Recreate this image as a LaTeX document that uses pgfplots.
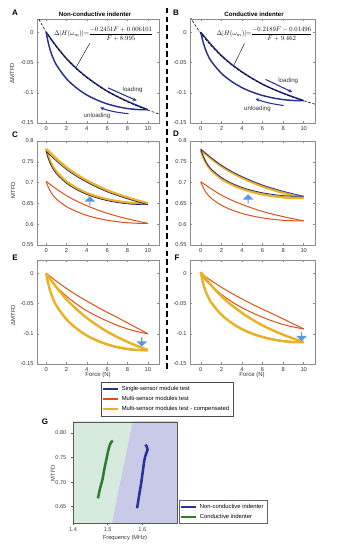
\documentclass[border=0pt]{standalone}
\usepackage{pgfplots}
\pgfplotsset{compat=1.18}
\usepackage{graphicx}
\usepackage{fontspec}
\setmainfont{Liberation Sans}
\usetikzlibrary{shapes.arrows,arrows.meta}
\definecolor{mblue}{RGB}{40,50,140}
\definecolor{morange}{RGB}{217,83,25}
\definecolor{myellow}{RGB}{237,177,32}
\definecolor{arrowblue}{RGB}{91,155,213}
\definecolor{gfillgreen}{RGB}{214,234,222}
\definecolor{gfillblue}{RGB}{200,202,232}
\definecolor{ggreen}{RGB}{46,125,50}
\definecolor{gblue}{RGB}{40,50,150}
\pgfplotsset{
 mat/.style={scale only axis, height=78pt, xtick={0,2,4,6,8,10}, xticklabels={0,2,4,6,8,10},
   tick align=inside, axis line style={draw=black!45, line width=0.4pt},
   major tick style={black!45, line width=0.3pt}, major tick length=1.8pt,
   tick label style={font=\fontsize{4.3}{5}\selectfont, text=black!80},
   /pgf/number format/assume math mode=true, clip mode=individual,
   xticklabel shift=-1pt, yticklabel shift=-1pt},
 lft/.style={mat, width=91.5pt, xmin=-0.9, xmax=11.1},
 rgt/.style={mat, width=93.75pt, xmin=-1.05, xmax=11.1},
 delta/.style={ymin=-0.15, ymax=0.022, ytick={-0.15,-0.1,-0.05,0}, yticklabels={-0.15,-0.1,-0.05,0}},
 mtfd/.style={ymin=0.55, ymax=0.8, ytick={0.55,0.6,0.65,0.7,0.75,0.8}, yticklabels={0.55,0.6,0.65,0.7,0.75,0.8}},
}
\begin{document}
\begin{tikzpicture}[x=0.75pt,y=0.75pt]
\useasboundingbox (0,0) rectangle (344,548);
% ---------------- A ----------------
\begin{axis}[lft, delta, at={(27.75pt,318.75pt)}, anchor=south west]
\addplot[mblue, line width=1.1pt, smooth] coordinates {(0,0) (1,-0.0230) (2,-0.0435) (3,-0.0602) (4,-0.0742) (5,-0.0864) (6,-0.0973) (7,-0.1062) (8,-0.1142) (9,-0.1213) (10,-0.128)};
\addplot[mblue, line width=1.1pt, smooth] coordinates {(10,-0.128) (9,-0.1277) (8,-0.1261) (7,-0.1229) (6,-0.1184) (5,-0.1120) (4,-0.1037) (3,-0.0922) (2,-0.0768) (1,-0.0538) (0.5,-0.0346) (0.2,-0.0166) (0,0)};
\addplot[black, line width=0.45pt, dash pattern=on 2pt off 1.3pt, smooth] coordinates {(-0.9,0.028) (-0.5,0.0151) (0,0.0007) (1,-0.0239) (2,-0.044) (3,-0.0608) (4,-0.075) (5,-0.0871) (6,-0.0977) (7,-0.1069) (8,-0.115) (9,-0.1222) (10,-0.1287) (11,-0.1345) (11.1,-0.1351)};
\draw[black, line width=0.3pt] (axis cs:4.3,-0.018) -- (axis cs:2.94,-0.058);
\node[anchor=west, inner sep=0pt] at (axis cs:0.75,-0.0025) {\scalebox{0.5}{$\Delta|H(\omega_m)|{=}\displaystyle\frac{-0.2451F+0.006101}{F+8.995}$}};
\draw[mblue, line width=0.8pt, -{Stealth[length=3pt,width=2.6pt]}] (axis cs:6.1,-0.092) -- (axis cs:8.9,-0.113);
\draw[mblue, line width=0.8pt, -{Stealth[length=3pt,width=2.6pt]}] (axis cs:8.1,-0.1345) .. controls (axis cs:7,-0.133) and (axis cs:6.2,-0.130) .. (axis cs:5.3,-0.1245);
\node[font=\fontsize{4.6}{5}\selectfont, text=black!80] at (axis cs:8.5,-0.095) {loading};
\node[font=\fontsize{4.6}{5}\selectfont, text=black!80] at (axis cs:5.0,-0.139) {unloading};
\end{axis}
% ---------------- B ----------------
\begin{axis}[rgt, delta, at={(142.5pt,318.75pt)}, anchor=south west]
\addplot[mblue, line width=1.1pt, smooth] coordinates {(0,0) (1,-0.0203) (2,-0.0384) (3,-0.0531) (4,-0.0655) (5,-0.0763) (6,-0.0859) (7,-0.0938) (8,-0.1008) (9,-0.1071) (10,-0.113)};
\addplot[mblue, line width=1.1pt, smooth] coordinates {(10,-0.113) (9,-0.1128) (8,-0.1113) (7,-0.1085) (6,-0.1045) (5,-0.0989) (4,-0.0915) (3,-0.0814) (2,-0.0678) (1,-0.0475) (0.5,-0.0305) (0.2,-0.0147) (0,0)};
\addplot[black, line width=0.45pt, dash pattern=on 2pt off 1.3pt, smooth] coordinates {(-1.05,0.0255) (-0.5,0.0105) (0,-0.0016) (1,-0.0224) (2,-0.0395) (3,-0.0539) (4,-0.0662) (5,-0.0767) (6,-0.0859) (7,-0.094) (8,-0.1011) (9,-0.1075) (10,-0.1132) (11,-0.1184) (11.1,-0.1189)};
\draw[black, line width=0.3pt] (axis cs:4.25,-0.0185) -- (axis cs:3.2,-0.055);
\node[anchor=west, inner sep=0pt] at (axis cs:1.5,-0.0025) {\scalebox{0.5}{$\Delta|H(\omega_m)|{=}\displaystyle\frac{-0.2189F-0.01496}{F+9.462}$}};
\draw[mblue, line width=0.8pt, -{Stealth[length=3pt,width=2.6pt]}] (axis cs:6.3,-0.078) -- (axis cs:8.9,-0.099);
\draw[mblue, line width=0.8pt, -{Stealth[length=3pt,width=2.6pt]}] (axis cs:8.05,-0.121) .. controls (axis cs:7,-0.119) and (axis cs:6.1,-0.115) .. (axis cs:5.3,-0.110);
\node[font=\fontsize{4.6}{5}\selectfont, text=black!80] at (axis cs:8.5,-0.081) {loading};
\node[font=\fontsize{4.6}{5}\selectfont, text=black!80] at (axis cs:5.5,-0.126) {unloading};
\end{axis}
% ---------------- C ----------------
\begin{axis}[lft, mtfd, at={(27.75pt,227.25pt)}, anchor=south west]
\addplot[morange, line width=0.75pt, smooth] coordinates {(0,0.703) (1,0.6848) (2,0.6687) (3,0.6555) (4,0.6444) (5,0.6348) (6,0.6262) (7,0.6192) (8,0.6129) (9,0.6073) (10,0.602)};
\addplot[morange, line width=0.75pt, smooth] coordinates {(10,0.602) (9,0.6022) (8,0.6035) (7,0.606) (6,0.6096) (5,0.6146) (4,0.6212) (3,0.6303) (2,0.6424) (1,0.6606) (0.5,0.6757) (0.2,0.6899) (0,0.703)};
\addplot[myellow, line width=1.8pt, smooth] coordinates {(0,0.781) (1,0.7574) (2,0.7365) (3,0.7194) (4,0.705) (5,0.6926) (6,0.6814) (7,0.6723) (8,0.6642) (9,0.6568) (10,0.65)};
\addplot[myellow, line width=1.8pt, smooth] coordinates {(10,0.65) (9,0.6503) (8,0.652) (7,0.6552) (6,0.6598) (5,0.6664) (4,0.6749) (3,0.6867) (2,0.7024) (1,0.726) (0.5,0.7456) (0.2,0.764) (0,0.781)};
\addplot[mblue!70!black, line width=0.5pt, smooth] coordinates {(0,0.775) (1,0.752) (2,0.7315) (3,0.7148) (4,0.7008) (5,0.6886) (6,0.6777) (7,0.6688) (8,0.6608) (9,0.6537) (10,0.647)};
\addplot[mblue!70!black, line width=0.5pt, smooth] coordinates {(10,0.647) (9,0.6473) (8,0.6489) (7,0.6521) (6,0.6566) (5,0.663) (4,0.6713) (3,0.6828) (2,0.6982) (1,0.7212) (0.5,0.7404) (0.2,0.7584) (0,0.775)};
\node[single arrow, fill=arrowblue, draw=none, rotate=90, minimum width=8pt, minimum height=7pt, single arrow head extend=1.6pt, inner sep=0pt] at (axis cs:4.3,0.655) {};
\end{axis}
% ---------------- D ----------------
\begin{axis}[rgt, mtfd, at={(142.5pt,227.25pt)}, anchor=south west]
\addplot[morange, line width=0.75pt, smooth] coordinates {(0,0.702) (1,0.6851) (2,0.67) (3,0.6578) (4,0.6475) (5,0.6386) (6,0.6306) (7,0.624) (8,0.6182) (9,0.6129) (10,0.608)};
\addplot[morange, line width=0.75pt, smooth] coordinates {(10,0.608) (9,0.6082) (8,0.6094) (7,0.6118) (6,0.6151) (5,0.6198) (4,0.6259) (3,0.6343) (2,0.6456) (1,0.6625) (0.5,0.6766) (0.2,0.6898) (0,0.702)};
\addplot[myellow, line width=1.8pt, smooth] coordinates {(0,0.779) (1,0.7581) (2,0.7396) (3,0.7245) (4,0.7117) (5,0.7007) (6,0.6908) (7,0.6827) (8,0.6755) (9,0.669) (10,0.663)};
\addplot[myellow, line width=1.8pt, smooth] coordinates {(10,0.663) (9,0.6632) (8,0.6647) (7,0.6676) (6,0.6717) (5,0.6775) (4,0.685) (3,0.6955) (2,0.7094) (1,0.7303) (0.5,0.7477) (0.2,0.7639) (0,0.779)};
\addplot[mblue, line width=0.6pt, smooth] coordinates {(0,0.78) (1,0.7597) (2,0.7416) (3,0.7269) (4,0.7145) (5,0.7037) (6,0.6941) (7,0.6862) (8,0.6792) (9,0.6729) (10,0.667)};
\addplot[mblue, line width=0.6pt, smooth] coordinates {(10,0.667) (9,0.6672) (8,0.6687) (7,0.6715) (6,0.6755) (5,0.6811) (4,0.6885) (3,0.6986) (2,0.7122) (1,0.7325) (0.5,0.7495) (0.2,0.7653) (0,0.78)};
\node[single arrow, fill=arrowblue, draw=none, rotate=90, minimum width=8pt, minimum height=7pt, single arrow head extend=1.6pt, inner sep=0pt] at (axis cs:4.6,0.66) {};
\end{axis}
% ---------------- E ----------------
\begin{axis}[lft, delta, at={(27.75pt,138pt)}, anchor=south west,
  legend style={at={(0.525,-0.173)}, anchor=north west, font=\fontsize{4.4}{5}\selectfont, draw=black!70, line width=0.4pt, inner sep=0.8pt, row sep=-1.2pt, cells={anchor=west}},
  legend image code/.code={\draw[#1, line width=1.6pt] (0pt,0pt) -- (11pt,0pt);}]
\addplot[forget plot, mblue, line width=0.6pt, smooth] coordinates {(0,0) (1,-0.0230) (2,-0.0435) (3,-0.0602) (4,-0.0742) (5,-0.0864) (6,-0.0973) (7,-0.1062) (8,-0.1142) (9,-0.1213) (10,-0.128)};
\addplot[forget plot, mblue, line width=0.6pt, smooth] coordinates {(10,-0.128) (9,-0.1277) (8,-0.1261) (7,-0.1229) (6,-0.1184) (5,-0.1120) (4,-0.1037) (3,-0.0922) (2,-0.0768) (1,-0.0538) (0.5,-0.0346) (0.2,-0.0166) (0,0)};
\addplot[forget plot, morange, line width=0.75pt, smooth] coordinates {(0,0) (1,-0.013) (2,-0.025) (3,-0.036) (4,-0.046) (5,-0.0555) (6,-0.0645) (7,-0.073) (8,-0.082) (9,-0.091) (10,-0.1)};
\addplot[forget plot, morange, line width=0.75pt, smooth] coordinates {(10,-0.1) (9,-0.0965) (8,-0.092) (7,-0.086) (6,-0.079) (5,-0.071) (4,-0.062) (3,-0.051) (2,-0.038) (1,-0.022) (0.5,-0.013) (0.2,-0.006) (0,0)};
\addplot[forget plot, myellow, line width=1.8pt, smooth] coordinates {(0,0) (1,-0.0229) (2,-0.0432) (3,-0.0597) (4,-0.0737) (5,-0.0857) (6,-0.0965) (7,-0.1054) (8,-0.1133) (9,-0.1204) (10,-0.127)};
\addplot[forget plot, myellow, line width=1.8pt, smooth] coordinates {(10,-0.127) (9,-0.1267) (8,-0.1251) (7,-0.1219) (6,-0.1175) (5,-0.1111) (4,-0.1029) (3,-0.0914) (2,-0.0762) (1,-0.0533) (0.5,-0.0343) (0.2,-0.0165) (0,0)};
\node[single arrow, fill=arrowblue, draw=none, rotate=-90, minimum width=8pt, minimum height=7pt, single arrow head extend=1.6pt, inner sep=0pt] at (axis cs:9.4,-0.113) {};
\addlegendimage{mblue}\addlegendentry{Single-sensor module test}
\addlegendimage{morange}\addlegendentry{Multi-sensor modules test}
\addlegendimage{myellow}\addlegendentry{Multi-sensor modules test - compensated}
\end{axis}
% ---------------- F ----------------
\begin{axis}[rgt, delta, at={(142.5pt,138pt)}, anchor=south west]
\addplot[mblue, line width=0.6pt, smooth] coordinates {(0,0) (1,-0.0203) (2,-0.0384) (3,-0.0531) (4,-0.0655) (5,-0.0763) (6,-0.0859) (7,-0.0938) (8,-0.1008) (9,-0.1071) (10,-0.113)};
\addplot[mblue, line width=0.6pt, smooth] coordinates {(10,-0.113) (9,-0.1128) (8,-0.1113) (7,-0.1085) (6,-0.1045) (5,-0.0989) (4,-0.0915) (3,-0.0814) (2,-0.0678) (1,-0.0475) (0.5,-0.0305) (0.2,-0.0147) (0,0)};
\addplot[morange, line width=0.75pt, smooth] coordinates {(0,0) (1,-0.012) (2,-0.023) (3,-0.0331) (4,-0.0423) (5,-0.0511) (6,-0.0593) (7,-0.0672) (8,-0.0754) (9,-0.0837) (10,-0.092)};
\addplot[morange, line width=0.75pt, smooth] coordinates {(10,-0.092) (9,-0.0888) (8,-0.0846) (7,-0.0791) (6,-0.0727) (5,-0.0653) (4,-0.057) (3,-0.0469) (2,-0.035) (1,-0.0202) (0.5,-0.012) (0.2,-0.0055) (0,0)};
\addplot[myellow, line width=1.8pt, smooth] coordinates {(0,0.002) (1,-0.0195) (2,-0.0378) (3,-0.0528) (4,-0.0655) (5,-0.0765) (6,-0.0862) (7,-0.0943) (8,-0.1015) (9,-0.108) (10,-0.114)};
\addplot[myellow, line width=1.8pt, smooth] coordinates {(10,-0.114) (9,-0.1138) (8,-0.1123) (7,-0.1095) (6,-0.1055) (5,-0.0999) (4,-0.0925) (3,-0.0822) (2,-0.0685) (1,-0.048) (0.5,-0.031) (0.2,-0.015) (0,0.002)};
\node[single arrow, fill=arrowblue, draw=none, rotate=-90, minimum width=8pt, minimum height=7pt, single arrow head extend=1.6pt, inner sep=0pt] at (axis cs:9.8,-0.104) {};
\end{axis}
% ---------------- G ----------------
\begin{axis}[at={(54.75pt,18.75pt)}, anchor=south west, scale only axis, width=78pt, height=75.75pt,
  xmin=1.4, xmax=1.7, ymin=0.617, ymax=0.822,
  xtick={1.4,1.5,1.6}, xticklabels={1.4,1.5,1.6},
  ytick={0.65,0.7,0.75,0.8}, yticklabels={0.65,0.70,0.75,0.80},
  tick align=outside, xtick pos=bottom, ytick pos=left, axis on top,
  axis line style={draw=black!65, line width=0.5pt}, major tick style={black!65, line width=0.4pt}, major tick length=1.5pt,
  tick label style={font=\fontsize{4.2}{5}\selectfont, text=black!75},
  xticklabel style={yshift=1.8pt},
  /pgf/number format/assume math mode=true,
  legend style={at={(1.02,-0.01)}, anchor=south west, font=\fontsize{4.4}{5}\selectfont, draw=black!60, line width=0.4pt, inner sep=0.8pt, row sep=-1.2pt, cells={anchor=west}},
  legend image code/.code={\draw[#1, line width=1.6pt] (0pt,0pt) -- (11pt,0pt);}]
\addplot[forget plot, fill=gfillgreen, draw=none] coordinates {(1.39,0.6) (1.507,0.6) (1.512,0.617) (1.522,0.65) (1.533,0.69) (1.545,0.73) (1.557,0.77) (1.571,0.822) (1.573,0.83) (1.39,0.83)} -- cycle;
\addplot[forget plot, fill=gfillblue, draw=none] coordinates {(1.507,0.6) (1.512,0.617) (1.522,0.65) (1.533,0.69) (1.545,0.73) (1.557,0.77) (1.571,0.822) (1.573,0.83) (1.71,0.83) (1.71,0.6)} -- cycle;
\addplot[gblue, line width=1.9pt, smooth] coordinates {(1.585,0.647) (1.590,0.67) (1.596,0.695) (1.601,0.72) (1.606,0.745) (1.611,0.758) (1.615,0.766) (1.612,0.773) (1.609,0.776)};
\addlegendentry{Non-conductive indenter}
\addplot[ggreen, line width=1.9pt, smooth] coordinates {(1.472,0.667) (1.478,0.687) (1.485,0.705) (1.490,0.725) (1.496,0.745) (1.501,0.762) (1.506,0.775) (1.510,0.781) (1.515,0.784)};
\addlegendentry{Conductive indenter}
\end{axis}
% ---------------- texts ----------------
\draw[black, line width=1.1pt, dash pattern=on 4pt off 2.5pt] (167,540) -- (167,176);
\node[font=\bfseries\fontsize{4.6}{5}\selectfont] at (95,534) {Non-conductive indenter};
\node[font=\bfseries\fontsize{4.6}{5}\selectfont] at (254,534) {Conductive indenter};
\node[font=\bfseries\fontsize{6}{7}\selectfont] at (15,535) {A};
\node[font=\bfseries\fontsize{6}{7}\selectfont] at (176,535) {B};
\node[font=\bfseries\fontsize{6}{7}\selectfont] at (15,413) {C};
\node[font=\bfseries\fontsize{6}{7}\selectfont] at (176,414) {D};
\node[font=\bfseries\fontsize{6}{7}\selectfont] at (15,290) {E};
\node[font=\bfseries\fontsize{6}{7}\selectfont] at (177,290) {F};
\node[font=\bfseries\fontsize{6}{7}\selectfont] at (45,126) {G};
\node[rotate=90, font=\fontsize{4.4}{5}\selectfont, text=black!80] at (12,475) {ΔMTFD};
\node[rotate=90, font=\fontsize{4.4}{5}\selectfont, text=black!80] at (13,358) {MTFD};
\node[rotate=90, font=\fontsize{4.4}{5}\selectfont, text=black!80] at (13,233) {ΔMTFD};
\node[font=\fontsize{4.5}{5}\selectfont, text=black!80] at (98,173) {Force (N)};
\node[font=\fontsize{4.5}{5}\selectfont, text=black!80] at (252,173) {Force (N)};
\node[rotate=90, font=\fontsize{4.3}{5}\selectfont, text=black!80] at (53,74.7) {MTFD};
\node[font=\fontsize{4.3}{5}\selectfont, text=black!80] at (125,9.5) {Frequency (MHz)};
\end{tikzpicture}
\end{document}
